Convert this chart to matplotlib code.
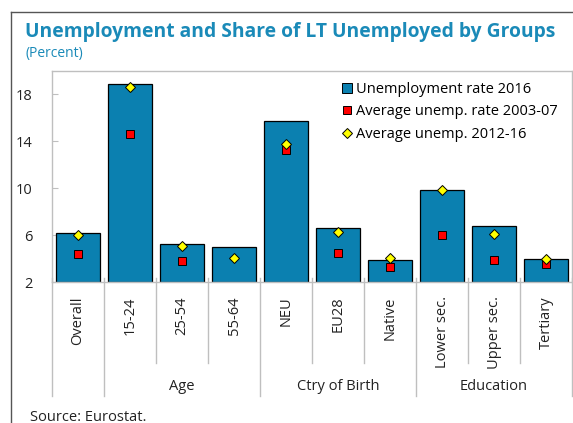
import numpy as np
import matplotlib.pyplot as plt
from matplotlib.lines import Line2D

plt.rcParams['font.family'] = ['Open Sans', 'DejaVu Sans']

categories = ['Overall', '15-24', '25-54', '55-64', 'NEU', 'EU28', 'Native',
              'Lower sec.', 'Upper sec.', 'Tertiary']
rate_2016 = [6.2, 18.9, 5.3, 5.0, 15.7, 6.6, 3.9, 9.9, 6.8, 4.0]
avg_0307 = [4.4, 14.6, 3.8, np.nan, 13.3, 4.5, 3.3, 6.0, 3.9, 3.6]
avg_1216 = [6.0, 18.6, 5.1, 4.1, 13.8, 6.3, 4.1, 9.9, 6.1, 4.0]
groups = ['Age', 'Ctry of Birth', 'Education']
group_start = [1, 4, 7]
group_end = [3, 6, 9]
yticks = [2, 6, 10, 14, 18]

blue = '#0b80b0'
title_blue = '#1a8ab8'
grey = '#bfbfbf'

fig = plt.figure(figsize=(5.73, 4.23), dpi=100)
ax = fig.add_axes([0.0908, 0.3326, 0.9075, 0.4996])

x = np.arange(len(categories))
ax.bar(x, np.array(rate_2016) - 2, bottom=2, width=0.83, color=blue,
       edgecolor='black', linewidth=0.9, zorder=2)
ax.plot(x, avg_0307, ls='none', marker='s', ms=5.5, mfc='#ff0000',
        mec='black', mew=0.7, zorder=3)
ax.plot(x, avg_1216, ls='none', marker='D', ms=5.5, mfc='#ffff00',
        mec='black', mew=0.7, zorder=4)

ax.set_xlim(-0.5, len(categories) - 0.5)
ax.set_ylim(2, 20)
ax.set_yticks(yticks)
ax.tick_params(axis='y', direction='in', length=4, color=grey, labelsize=10.5,
               labelcolor='#222222', pad=14)
ax.set_xticks(x)
ax.set_xticklabels(categories, rotation=90, va='top', ha='center')
ax.tick_params(axis='x', length=0, labelsize=10.5, labelcolor='#222222', pad=10)
for s in ax.spines.values():
    s.set_color(grey)
    s.set_linewidth(1)

# separators below the axis
tr = ax.get_xaxis_transform()
for i in range(len(categories) + 1):
    xp = i - 0.5
    long_line = xp in [-0.5, 0.5, 3.5, 6.5, 9.5]
    y_end = -0.538 if long_line else -0.382
    ax.plot([xp, xp], [0.02, y_end], color=grey, lw=1, transform=tr, clip_on=False)
for g, a, b in zip(groups, group_start, group_end):
    ax.text((a + b) / 2, -0.494, g, transform=tr, ha='center', va='center',
            fontsize=10.5, color='#222222')

handles = [
    Line2D([], [], ls='none', marker='s', ms=7, mfc=blue, mec='black', mew=0.7),
    Line2D([], [], ls='none', marker='s', ms=6, mfc='#ff0000', mec='black', mew=0.7),
    Line2D([], [], ls='none', marker='D', ms=5, mfc='#ffff00', mec='black', mew=0.7),
]
labels = ['Unemployment rate 2016', 'Average unemp. rate 2003-07',
          'Average unemp. 2012-16']
ax.legend(handles, labels, loc='upper left', bbox_to_anchor=(0.548, 0.975),
          frameon=False, fontsize=10.5, handlelength=0.6, handletextpad=0.3,
          labelspacing=0.5, borderaxespad=0)

# frame and titles
fig.add_artist(Line2D([11 / 573, 11 / 573], [0, 1 - 12 / 423], color='#555555', lw=1))
fig.add_artist(Line2D([11 / 573, 1], [1 - 12 / 423, 1 - 12 / 423], color='#555555', lw=1))
fig.text(25 / 573, 1 - 32 / 423, 'Unemployment and Share of LT Unemployed by Groups',
         fontsize=13.9, fontweight='bold', color=title_blue, va='center', ha='left')
fig.text(25 / 573, 1 - 53 / 423, '(Percent)', fontsize=10, color=title_blue,
         va='center', ha='left')
fig.text(30 / 573, 1 - 417 / 423, 'Source: Eurostat.', fontsize=10.5,
         color='#222222', va='center', ha='left')

fig.savefig('out.png', dpi=100)
